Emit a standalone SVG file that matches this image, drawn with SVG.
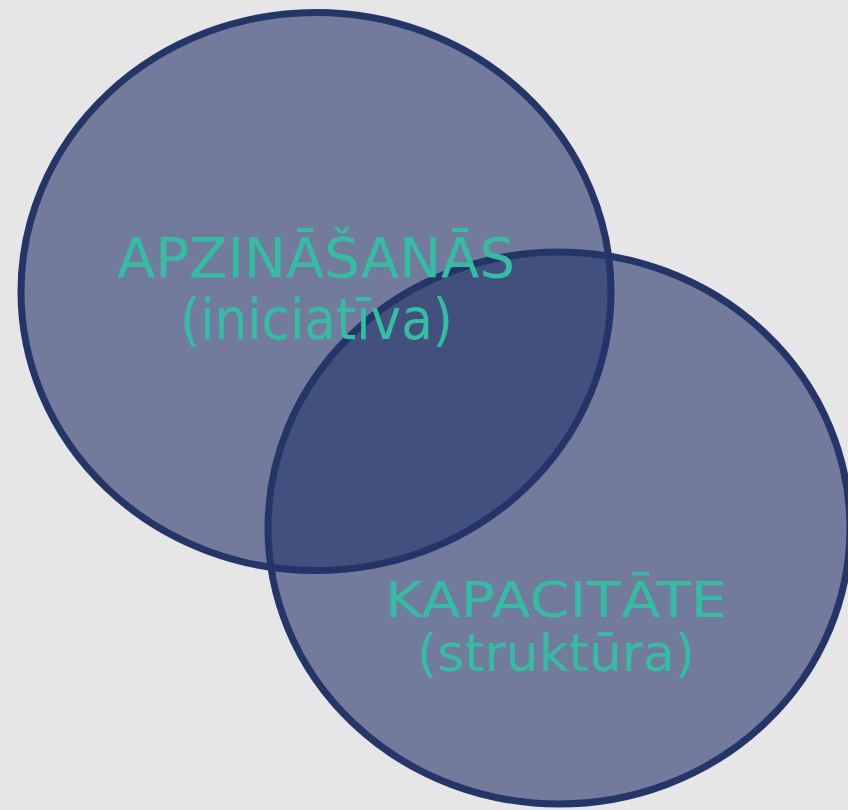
<svg xmlns="http://www.w3.org/2000/svg" width="848" height="810" viewBox="0 0 848 810">
  <style>
    .circle { fill: #24346a; fill-opacity: 0.6; stroke: #243568; stroke-width: 7; }
    .label { fill: #33bea3; font-family: "DejaVu Sans", "Liberation Sans", sans-serif; text-anchor: middle; }
  </style>
  <rect x="0" y="0" width="848" height="810" fill="#e6e6e6"/>
  <g id="awareness-circle">
    <ellipse class="circle" cx="316" cy="291.5" rx="295" ry="279"/>
  </g>
  <g id="capacity-circle">
    <ellipse class="circle" cx="559" cy="528" rx="291" ry="276"/>
  </g>
  <g id="connectors"></g>
  <g id="awareness-label">
    <text class="label" x="316" y="277" font-size="55" textLength="398" lengthAdjust="spacingAndGlyphs">APZINĀŠANĀS</text>
    <text class="label" x="316.5" y="339" font-size="57" textLength="273" lengthAdjust="spacingAndGlyphs">(iniciatīva)</text>
  </g>
  <g id="capacity-label">
    <text class="label" x="556" y="617" font-size="49" textLength="342" lengthAdjust="spacingAndGlyphs">KAPACITĀTE</text>
    <text class="label" x="556" y="671" font-size="52" textLength="278" lengthAdjust="spacingAndGlyphs">(struktūra)</text>
  </g>
</svg>
